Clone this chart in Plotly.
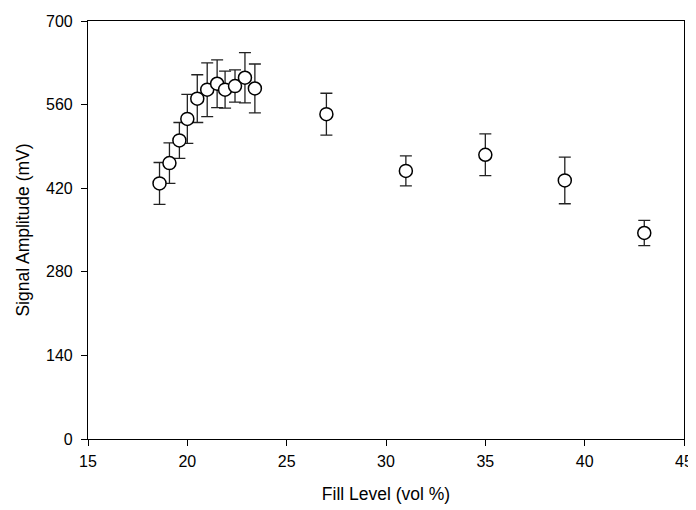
import plotly.graph_objects as go

fill_level = [18.6, 19.1, 19.6, 20.0, 20.5, 21.0, 21.5, 21.9, 22.4, 22.9, 23.4, 27.0, 31.0, 35.0, 39.0, 43.0]
amplitude = [428, 462, 500, 536, 570, 585, 595, 585, 591, 605, 587, 544, 449, 476, 433, 345]
error = [35, 34, 30, 41, 40, 45, 40, 31, 27, 42, 41, 35, 25, 35, 39, 21]

fig = go.Figure()
fig.add_trace(go.Scatter(
    x=fill_level, y=amplitude, mode="markers",
    marker=dict(symbol="circle", size=13, color="white",
                line=dict(color="black", width=1.5)),
    error_y=dict(type="data", array=error, visible=True,
                 color="#222222", thickness=1.3, width=6),
    showlegend=False,
))

font = "Liberation Sans, Arial, sans-serif"
# page body has an 8px default margin, so margins are offset to place the plot area
fig.update_layout(
    width=696, height=510,
    margin=dict(l=80, r=20, t=13, b=79),
    plot_bgcolor="white", paper_bgcolor="white",
    font=dict(family=font, color="black", size=16),
)
fig.update_xaxes(
    range=[15, 45], tickvals=[15, 20, 25, 30, 35, 40, 45],
    showgrid=False, zeroline=False, automargin=False,
    showline=True, linecolor="black", linewidth=1.2, mirror=True,
    ticks="outside", ticklen=6, tickcolor="black",
    ticklabelstandoff=2,
    title=dict(text="Fill Level (vol %)", font=dict(size=17.5), standoff=18),
    tickfont=dict(size=16),
)
fig.update_yaxes(
    range=[0, 700], tickvals=[0, 140, 280, 420, 560, 700],
    showgrid=False, zeroline=False, automargin=False,
    showline=True, linecolor="black", linewidth=1.2, mirror=True,
    ticks="outside", ticklen=6, tickcolor="black",
    ticklabelstandoff=5,
    title=dict(text="Signal Amplitude (mV)", font=dict(size=17.5), standoff=11),
    tickfont=dict(size=16),
)

fig.write_html("out.html")
